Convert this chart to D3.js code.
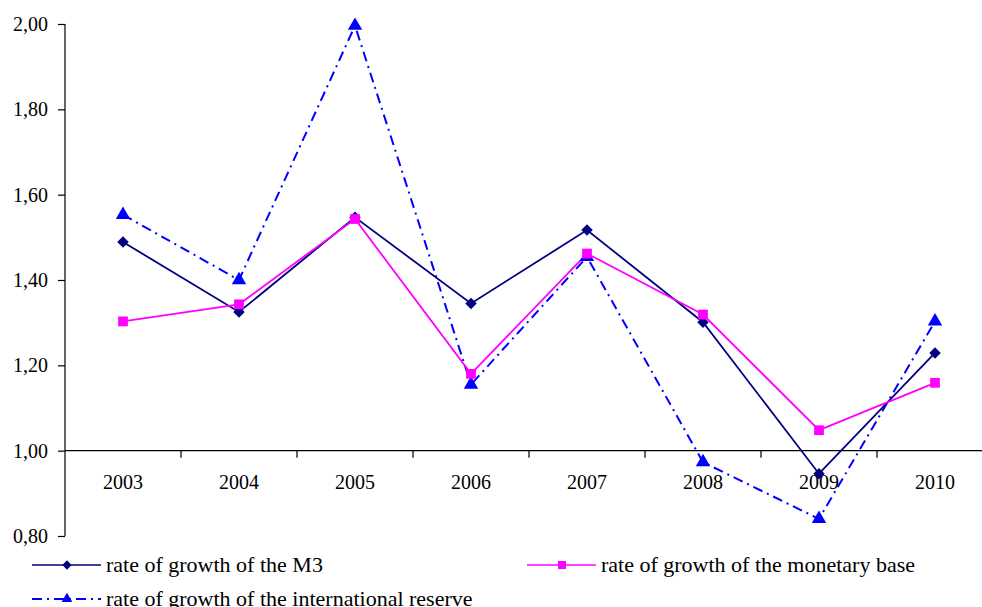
<!DOCTYPE html>
<html>
<head>
<meta charset="utf-8">
<script src="https://cdn.jsdelivr.net/npm/d3@7"></script>
<style>
    body { margin: 0; background: #fff; }
    svg { display: block; font-family: "Liberation Serif", "DejaVu Serif", serif; }
</style>
</head>
<body>
<div id="chart"></div>
<script>
// data
const years = ['2003', '2004', '2005', '2006', '2007', '2008', '2009', '2010'];
const m3Growth = [1.489, 1.325, 1.547, 1.345, 1.517, 1.301, 0.946, 1.229];
const baseGrowth = [1.303, 1.343, 1.543, 1.180, 1.462, 1.319, 1.048, 1.159];
const reserveGrowth = [1.553, 1.400, 1.996, 1.155, 1.454, 0.973, 0.840, 1.303];
const yTicks = [0.8, 1.0, 1.2, 1.4, 1.6, 1.8, 2.0];

const W = 982, H = 607;
const svg = d3.select('#chart').append('svg')
    .attr('width', W)
    .attr('height', H);

// scales (band runs past the right edge like the original crop)
const x = d3.scaleBand().domain(years).range([65, 993]);
const y = d3.scaleLinear().domain([0.8, 2.0]).range([536, 24]);
const cx = d => x(d) + x.bandwidth() / 2;

const fmt = d => d.toFixed(2).replace('.', ',');

// Y axis
const yAxis = svg.append('g')
    .attr('transform', 'translate(65,0)')
    .call(d3.axisLeft(y).tickValues(yTicks).tickFormat(fmt).tickSize(7).tickPadding(10))
    .attr('font-family', '"Liberation Serif", serif')
    .attr('font-size', 20);
yAxis.select('.domain').attr('stroke', '#000').attr('stroke-width', 1.2).attr('d', `M0,${y(2.0)}V${y(0.8)}`);
yAxis.selectAll('.tick line').attr('stroke', '#000').attr('stroke-width', 1.2);
yAxis.selectAll('.tick text').attr('fill', '#000');

// X axis crossing at 1,00
const xAxis = svg.append('g')
    .attr('transform', `translate(0,${y(1.0)})`);
xAxis.append('line')
    .attr('x1', 65).attr('x2', W)
    .attr('stroke', '#000').attr('stroke-width', 1.2);
xAxis.selectAll('.xtick')
    .data(years.slice(1).concat(['end']))
    .enter().append('line')
    .attr('x1', (d, i) => 65 + (i + 1) * x.bandwidth())
    .attr('x2', (d, i) => 65 + (i + 1) * x.bandwidth())
    .attr('y1', 0).attr('y2', 7)
    .attr('stroke', '#000').attr('stroke-width', 1.2);
xAxis.selectAll('.xlabel')
    .data(years)
    .enter().append('text')
    .attr('x', d => cx(d))
    .attr('y', 38)
    .attr('text-anchor', 'middle')
    .attr('font-size', 20)
    .attr('fill', '#000')
    .text(d => d);

// diamond = square turned 45 degrees
const diamond = {
    draw(ctx, size) {
        const r = Math.sqrt(size / 2);
        ctx.moveTo(0, -r);
        ctx.lineTo(r, 0);
        ctx.lineTo(0, r);
        ctx.lineTo(-r, 0);
        ctx.closePath();
    }
};

// series
const series = [
    { name: 'rate of growth of the M3', values: m3Growth, color: '#000080', dash: null, symbol: diamond, size: 66, legendSize: 44 },
    { name: 'rate of growth of the monetary base', values: baseGrowth, color: '#FF00FF', dash: null, symbol: d3.symbolSquare, size: 95, legendSize: 64 },
    { name: 'rate of growth of the international reserve', values: reserveGrowth, color: '#0000FF', dash: '10,5,2,5', symbol: d3.symbolTriangle, size: 90, legendSize: 50 }
];

const line = d3.line()
    .x((d, i) => cx(years[i]))
    .y(d => y(d));

// draw reserve first so the solid lines sit on top
[series[2], series[0], series[1]].forEach(s => {
    svg.append('path')
        .datum(s.values)
        .attr('fill', 'none')
        .attr('stroke', s.color)
        .attr('stroke-width', s.dash ? 2 : 1.8)
        .attr('stroke-dasharray', s.dash)
        .attr('d', line);
});
[series[2], series[0], series[1]].forEach(s => {
    svg.selectAll(null)
        .data(s.values)
        .enter().append('path')
        .attr('transform', (d, i) => `translate(${cx(years[i])},${y(d)})`)
        .attr('d', d3.symbol().type(s.symbol).size(s.size))
        .attr('fill', s.color);
});

// legend (last row is cut by the bottom edge, as in the source)
const legendPos = [
    { x: 32, y: 565 },
    { x: 527, y: 565 },
    { x: 32, y: 599 }
];
series.forEach((s, i) => {
    const p = legendPos[i];
    const lg = svg.append('g').attr('transform', `translate(${p.x},${p.y})`);
    lg.append('line')
        .attr('x1', 0).attr('x2', 69)
        .attr('stroke', s.color)
        .attr('stroke-width', s.dash ? 2 : 1.6)
        .attr('stroke-dasharray', s.dash);
    lg.append('path')
        .attr('transform', 'translate(35,0)')
        .attr('d', d3.symbol().type(s.symbol).size(s.legendSize))
        .attr('fill', s.color);
    lg.append('text')
        .attr('x', 74)
        .attr('y', 7)
        .attr('font-size', 22)
        .attr('fill', '#000')
        .text(s.name);
});
</script>
</body>
</html>
